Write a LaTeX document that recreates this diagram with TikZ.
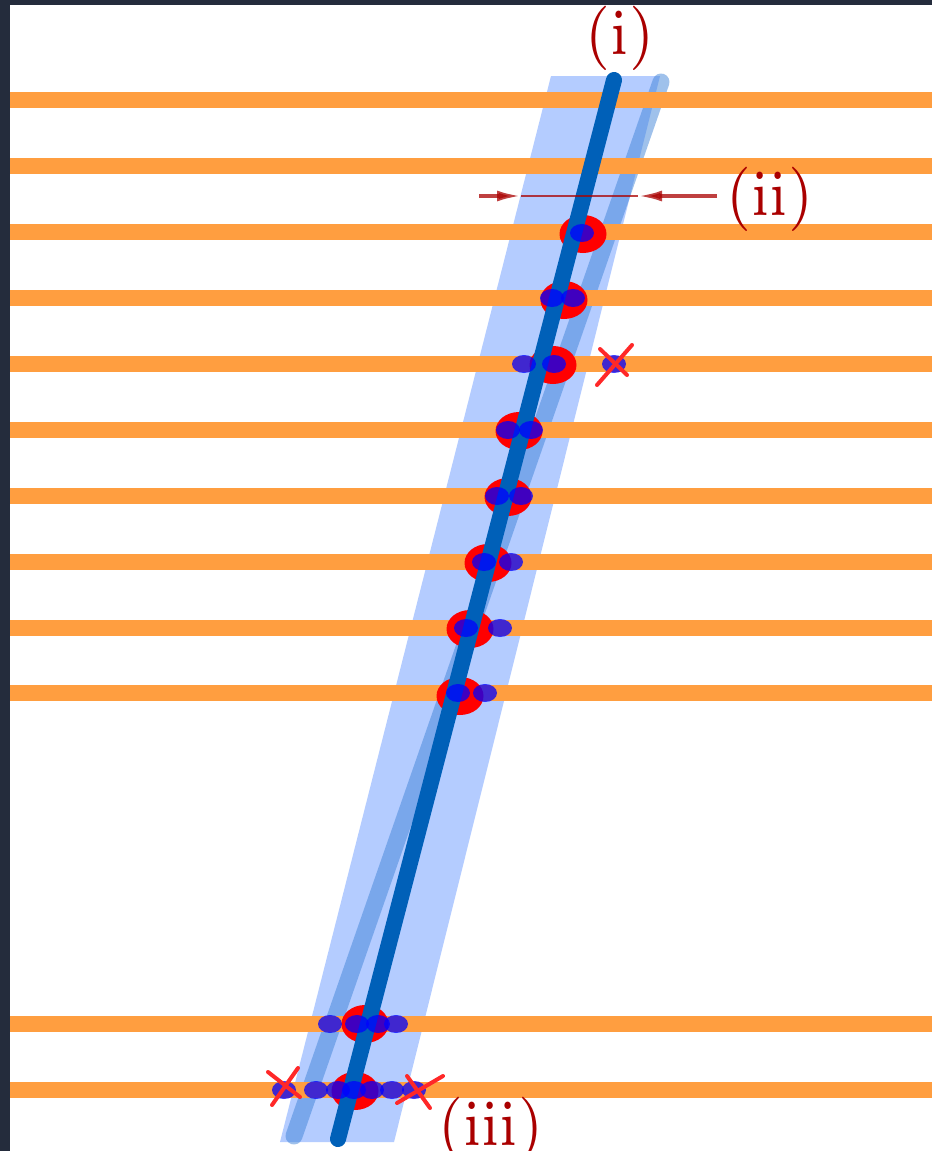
\documentclass[tikz,border=0pt]{standalone}
\usepackage{graphicx}
\usetikzlibrary{arrows.meta}
\definecolor{frame}{RGB}{36,44,60}
\definecolor{wire}{RGB}{255,158,64}
\definecolor{band}{RGB}{180,204,255}
\definecolor{midblue}{RGB}{64,132,217}
\definecolor{track}{RGB}{0,96,184}
\definecolor{lab}{RGB}{170,0,0}
\definecolor{crossred}{RGB}{255,40,40}
\font\labfont=cmr7 at 56pt
\tikzset{
  wireline/.style={wire, line width=16pt},
  hitdot/.style={fill=blue, fill opacity=0.75},
  cluster/.style={fill=red},
  xmark/.style={crossred, line width=4pt, line cap=round},
  lbl/.style={text=lab, inner sep=0pt, font=\labfont},
  annot/.style={lab, draw opacity=0.75, fill opacity=0.75, line width=3.5pt},
}
\begin{document}
\begin{tikzpicture}[x=1pt,y=-1pt]
\useasboundingbox (0,0) rectangle (932,1151);
% frame
\fill[frame] (0,0) rectangle (932,1151);
\fill[white] (10,5) rectangle (932,1151);
% road band
\fill[band] (551,76) -- (660,76) -- (394,1142) -- (280,1142) -- cycle;
% second track
\draw[midblue, draw opacity=0.5, line width=17pt, line cap=round] (661,82) -- (294,1136);
% wires
\foreach \y in {100,166,232,298,364,430,496,562,628,693,1024,1090}
  \draw[wireline] (10,\y) -- (932,\y);
% clusters
\foreach \x/\y in {583/234,564/300,553/365,519/431,508/497,488/563,470/629,460/696,365/1024,355/1091}
  \fill[cluster] (\x,\y) ellipse [x radius=23.5pt, y radius=19pt];
% main track
\draw[track, line width=16pt, line cap=round] (614,80) -- (338,1139);
% hits
\foreach \x/\y in {582/233,552/298,573/298,524/364,554/364,614/364,508/430,531/430,497/496,521/496,484/562,511/562,466/628,500/628,458/693,485/693,330/1024,357/1024,378/1024,396/1024,284/1090,316/1090,338/1090,354/1090,372/1090,392/1090,414/1090}
  \fill[hitdot] (\x,\y) ellipse [x radius=12pt, y radius=9pt];
% rejected hits
\draw[xmark] (600,349) -- (627,375);
\draw[xmark] (632,345) -- (597,385);
\draw[xmark] (268,1072) -- (300,1097);
\draw[xmark] (298,1068) -- (272,1105);
\draw[xmark] (407,1076) -- (430,1108);
\draw[xmark] (443,1076) -- (397,1103);
% width annotation
\coordinate (aL) at (479,196);
\coordinate (aLt) at (521,196);
\coordinate (aR) at (717,196);
\coordinate (aRt) at (638,196);
\draw[annot, line width=2pt] (aLt) -- (aRt);
\draw[annot, -{Latex[length=24pt,width=11pt]}] (aL) -- (aLt);
\draw[annot, -{Latex[length=24pt,width=11pt]}] (aR) -- (aRt);
% labels
\node[lbl] (li) at (620,38) {\scalebox{1}[1.15]{(i)}};
\node[lbl] (lii) at (770,199) {\scalebox{1}[1.15]{(ii)}};
\node[lbl] (liii) at (491,1129) {\scalebox{1}[1.15]{(iii)}};
\end{tikzpicture}
\end{document}
